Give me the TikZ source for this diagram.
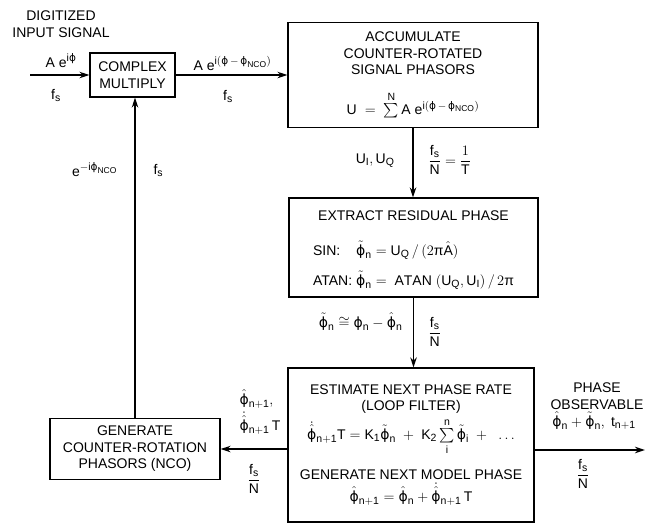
\documentclass[tikz,border=0pt]{standalone}
\usepackage{amsmath}
\usepackage{fontspec}
\setmainfont{Liberation Sans}
\newfontfamily\grkfont{DejaVu Sans}
\usetikzlibrary{arrows.meta}
\DeclareMathSizes{14}{14}{10.5}{8.5}
\newcommand{\phs}{\text{\grkfont ϕ}}
\newcommand{\rt}[1]{\mathrm{#1}}

\begin{document}
\begin{tikzpicture}[x=1pt, y=-1pt, font=\fontsize{14}{16.5}\selectfont,
  >={Stealth[length=10pt,width=6.5pt]},
  blk/.style={draw, line width=1.3pt, inner sep=2pt, align=center},
  flow/.style={->, line width=1.8pt}]
  \useasboundingbox (0,0) rectangle (653,525);

  % ----- blocks -----
  \node[blk, minimum width=85pt, minimum height=44pt]
    (cmul) at (132.5,75) {COMPLEX\\MULTIPLY};
  \node[blk, minimum width=250pt, minimum height=105pt] (accum) at (413,75)
    {ACCUMULATE\\COUNTER-ROTATED\\SIGNAL PHASORS\\[16pt]
     $\rt{U} \;=\; \sum\limits^{\rt{N}} \rt{A}\;\rt{e}^{\rt{i}(\phs\,-\,\phs_{\rt{NCO}})}$};
  \node[blk, minimum width=249pt, minimum height=99pt] (extract) at (413.5,247.5)
    {\rule{0pt}{16pt}EXTRACT RESIDUAL PHASE\\[19pt]
     \begin{tabular}{@{}l@{\hspace{4pt}}l@{}}
      SIN: & $\tilde{\phs}_{\rt{n}} = \rt{U_Q} \,/\, (2\text{π}\hat{\rt{A}})$\\[11pt]
      ATAN: & $\tilde{\phs}_{\rt{n}} = \ \rt{ATAN}\ (\rt{U_Q},\rt{U_I}) \,/\, 2\text{π}$
     \end{tabular}};
  \node[blk, minimum width=246pt, minimum height=154pt] (estimate) at (411,445)
    {ESTIMATE NEXT PHASE RATE\\(LOOP FILTER)\\[4pt]
     $\dot{\hat{\phs}}_{\rt{n+1}}\rt{T} = \rt{K_1}\tilde{\phs}_{\rt{n}}
      \;+\; \rt{K_2}\sum\limits_{\rt{i}}^{\rt{n}}\tilde{\phs}_{\rt{i}} \;+\; \ \ldots$\\[14pt]
     GENERATE NEXT MODEL PHASE\\[3pt]
     $\hat{\phs}_{\rt{n+1}} = \hat{\phs}_{\rt{n}} + \dot{\hat{\phs}}_{\rt{n+1}}\,\rt{T}$};
  \node[blk, minimum width=170pt, minimum height=61pt]
    (nco) at (135,449) {GENERATE\\COUNTER-ROTATION\\PHASORS (NCO)};

  % ----- connectors -----
  \coordinate (sigin) at (30,75);
  \coordinate (obs) at (645,450);
  \draw[flow] (sigin) -- (cmul.west);
  \draw[flow] (cmul.east) -- (accum.west);
  \draw[flow] (accum.south) -- (accum.south |- extract.north);
  \draw[flow] (extract.south) -- (extract.south |- estimate.north);
  \draw[flow] (estimate.west |- nco.east) -- (nco.east);
  \draw[flow] (estimate.east |- obs) -- (obs);
  \draw[flow] (nco.north) -- (nco.north |- cmul.south);

  % ----- connector labels -----
  \node[align=center] (inname) at (61,24) {DIGITIZED\\INPUT SIGNAL};
  \node[anchor=base] (insig) at (61,67) {$\rt{A}\;\rt{e}^{\rt{i}\phs}$};
  \node[anchor=base] (infs) at (56,99) {$\rt{f_s}$};
  \node[anchor=base west] (rotsig) at (190,70)
    {$\rt{A}\;\rt{e}^{\rt{i}(\phs\,-\,\phs_{\rt{NCO}})}$};
  \node[anchor=base] (rotfs) at (228,100) {$\rt{f_s}$};
  \node[anchor=base east] (uiuq) at (398,163) {$\rt{U_I},\rt{U_Q}$};
  \node[anchor=west] (accrate) at (425,160)
    {$\dfrac{\rt{f_s}}{\rt{N}} = \dfrac{1}{\rt{T}}$};
  \node[anchor=base east] (resid) at (406,327)
    {$\tilde{\phs}_{\rt{n}} \cong \phs_{\rt{n}} - \hat{\phs}_{\rt{n}}$};
  \node[anchor=west] (resrate) at (425,332) {$\dfrac{\rt{f_s}}{\rt{N}}$};
  \node[align=center] (obsname) at (597,396) {PHASE\\OBSERVABLE};
  \node[anchor=base] (obsval) at (594,426)
    {$\hat{\phs}_{\rt{n}} + \tilde{\phs}_{\rt{n}},\ \rt{t}_{\rt{n+1}}$};
  \node (obsrate) at (583,474) {$\dfrac{\rt{f_s}}{\rt{N}}$};
  \node[anchor=base west] (ncophase) at (236,404) {$\hat{\phs}_{\rt{n+1}},$};
  \node[anchor=base west] (ncorate) at (236,430) {$\dot{\hat{\phs}}_{\rt{n+1}}\,\rt{T}$};
  \node (ncofs) at (254,479) {$\dfrac{\rt{f_s}}{\rt{N}}$};
  \node[anchor=base east] (ncoout) at (121,176) {$\rt{e}^{-\rt{i}\phs_{\rt{NCO}}}$};
  \node[anchor=base west] (ncofb) at (150,174) {$\rt{f_s}$};
\end{tikzpicture}
\end{document}
